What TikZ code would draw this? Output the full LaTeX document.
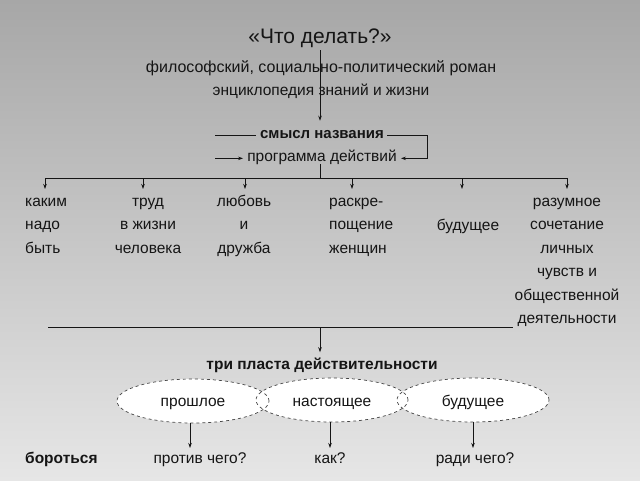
\documentclass[tikz,border=0pt]{standalone}
\usepackage{fontspec}
\setmainfont{Liberation Sans}
\usetikzlibrary{arrows.meta,shapes.geometric}

\definecolor{bgtop}{HTML}{A7A7A7}
\definecolor{bgbot}{HTML}{E6E6E6}
\definecolor{ink}{HTML}{151515}

\tikzset{
	txt/.style={font=\fontsize{15.5}{23.5}\selectfont, inner sep=0pt, text=ink, anchor=base},
	txtb/.style={txt, font=\fontsize{15.5}{23.5}\selectfont\bfseries},
	stack/.style={txt, anchor=north, align=center},
	ln/.style={line width=0.8pt, draw=ink},
	arr/.style={ln, -{Stealth[length=5pt,width=3.5pt]}},
	oval/.style={ellipse, minimum width=152pt, minimum height=44pt, inner sep=0pt},
}

\begin{document}
\begin{tikzpicture}[x=1pt,y=-1pt]
	
	%Hintergrund
	\shade[top color=bgtop, bottom color=bgbot] (0,0) rectangle (640,480);
	\useasboundingbox (0,0) rectangle (640,480);
	
	%Kopf
	\node[txt, font=\fontsize{21}{26}\selectfont] (title) at (320,43) {«Что делать?»};
	\node[txt, font=\fontsize{16}{23.5}\selectfont] (genre) at (321,72) {философский, социально-политический роман};
	\node[txt] (encycl) at (321,95) {энциклопедия знаний и жизни};
	\node[txtb, font=\fontsize{15}{23.5}\selectfont\bfseries] (meaning) at (322,138) {смысл названия};
	\node[txt] (program) at (322,161) {программа действий};
	
	\draw[arr, shorten <=3pt, shorten >=9pt] (title.south) -- (title.south |- meaning.north);
	
	%Klammer um den Namen
	\coordinate (brL) at (215,0);
	\coordinate (brR) at (427,0);
	\draw[ln] (brL |- meaning.mid) -- ([xshift=-4pt]meaning.mid west);
	\draw[arr] (brL |- program.mid) -- ([xshift=-4pt]program.mid west);
	\draw[arr] ([xshift=3pt]meaning.mid east) -| (brR |- program.mid) -- ([xshift=4pt]program.mid east);
	
	%obere Schiene
	\coordinate (bar) at (320,178);
	\draw[ln] (program.south -| bar) -- (bar);
	\draw[ln] (45,178) -- (567,178);
	
	\node[stack, anchor=north west, align=left] (k1) at (25,189.5) {\strut каким\\надо\\быть};
	\node[stack] (k2) at (148,189.5) {\strut труд\\в жизни\\человека};
	\node[stack] (k3) at (244,189.5) {\strut любовь\\и\\дружба};
	\node[stack, anchor=north west, align=left] (k4) at (329,189.5) {\strut раскре-\\пощение\\женщин};
	\node[txt] (k5) at (468,230) {будущее};
	\node[stack] (k6) at (567,189.5) {\strut разумное\\сочетание\\личных\\чувств и\\общественной\\деятельности};
	
	%Pfeile zu den Punkten
	\foreach \x [count=\i] in {45,143,245,352,462,567} {
		\coordinate (top\i) at (\x,178);
		\coordinate (tip\i) at (\x,189);
		\draw[arr] (top\i) -- (tip\i);
	}
	
	%untere Schiene
	\coordinate (bar2) at (320,327);
	\draw[ln] (48,327) -- (513,327);
	\node[txtb] (layers) at (322,369) {три пласта действительности};
	\draw[arr, shorten >=5pt] (bar2) -- (bar2 |- layers.north);
	
	%drei Ellipsen
	\node[oval, fill=white] (past) at (193,401) {};
	\node[oval, fill=white] (now) at (332,400) {};
	\node[oval, fill=white] (future) at (473,400) {};
	\foreach \e in {past,now,future}
		\node[oval, draw=ink!80, dashed, line width=0.7pt] (\e-rim) at (\e) {};
	\node[txt] (pastT) at (193,406) {прошлое};
	\node[txt] (nowT) at (332,406) {настоящее};
	\node[txt] (futureT) at (473,406) {будущее};
	
	%untere Zeile
	\node[txtb, anchor=base west] (fight) at (25,463) {бороться};
	\node[txt] (q1) at (200,463) {против чего?};
	\node[txt] (q2) at (330,463) {как?};
	\node[txt] (q3) at (475,463) {ради чего?};
	
	\draw[arr, shorten >=4pt] ([xshift=-3pt]past.south) -- ([xshift=-3pt]past.south |- q1.north);
	\draw[arr, shorten >=4pt] ([xshift=-2pt]now.south) -- ([xshift=-2pt]now.south |- q2.north);
	\draw[arr, shorten >=4pt] (future.south) -- (future.south |- q3.north);
	
\end{tikzpicture}
\end{document}
